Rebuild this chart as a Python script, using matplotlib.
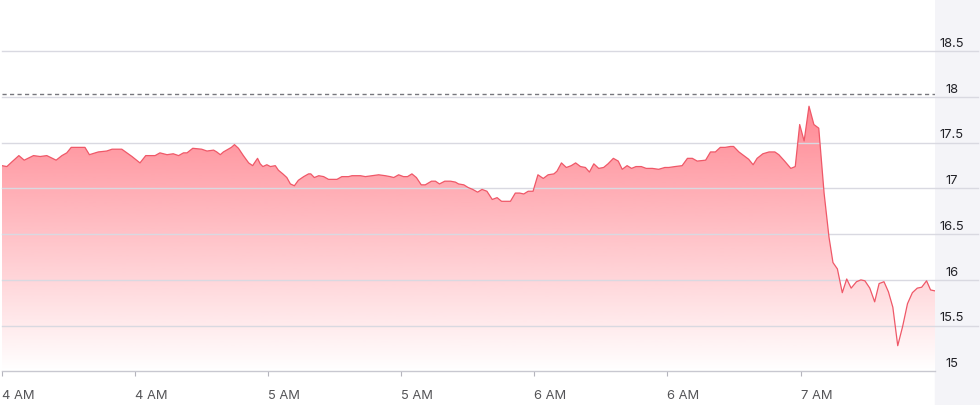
import numpy as np
import matplotlib
matplotlib.use('Agg')
import matplotlib.pyplot as plt
from matplotlib.colors import to_rgb
from matplotlib.patches import Rectangle

plt.rcParams['font.family'] = ['Inter', 'DejaVu Sans']

# minutes after 4:00 AM and price
minutes = [
    0, 1.1, 2.2, 3.8, 5.0, 7.1, 8.6, 10.1, 12.2, 13.5, 14.6, 15.6, 18.7, 19.7,
    21.7, 23.6, 24.8, 27.0, 29.3, 31.1, 32.4, 34.5, 35.6, 37.2, 38.6, 39.8,
    40.9, 41.7, 43.0,
    45.0, 46.2, 47.7, 48.4, 49.2, 49.9, 51.0, 51.7, 52.4, 53.3, 54.4, 55.6,
    56.5, 56.9, 57.6, 58.2, 58.8, 59.7, 60.5, 61.6, 62.3, 63.3, 64.2, 65.0,
    65.9, 66.8, 68.0, 69.1, 69.6, 70.4, 71.4, 72.5, 73.6, 75.5, 76.6, 78.1,
    78.9, 80.8, 81.9, 83.4, 84.9, 86.4,
    87.5, 88.3, 89.4, 90.5, 91.4, 92.4, 93.4, 94.5, 95.4, 96.8, 97.7, 98.6,
    99.8, 101.1, 102.2, 102.9, 104.1, 105.1, 106.1, 107.2, 108.2, 109.3,
    110.5, 111.6, 112.6, 113.7, 114.6, 115.7, 116.7, 117.6, 118.6, 119.7,
    120.8, 122.0, 123.1, 124.4, 125.1, 126.1, 127.2, 128.3, 129.3, 130.4,
    131.5, 132.4, 133.4, 134.5, 135.6, 136.6, 137.8, 138.9, 139.8, 140.9,
    141.9, 142.9, 144.1, 145.2, 146.6, 148.0, 149.4, 150.3, 151.7, 153.3,
    154.5, 155.6, 156.7, 158.6, 159.7, 160.8, 161.9, 163.0, 164.2, 164.9,
    166.1, 167.2, 168.3, 169.3, 170.2, 171.5, 172.9, 174.2, 175.1, 176.4,
    177.8, 178.8, 179.8, 180.8, 181.9, 183.0, 184.1, 185.3, 186.4, 187.3,
    188.3, 189.4, 190.4, 191.4, 192.6, 193.6, 194.5, 195.6, 196.7, 197.7,
    198.8, 199.8, 200.8, 201.9, 203.0, 204.1, 205.2, 206.3, 207.3, 208.4,
    209.3, 210.3,
]
prices = [
    17.25, 17.24, 17.29, 17.36, 17.31, 17.36, 17.35, 17.36, 17.31, 17.36,
    17.39, 17.45, 17.45, 17.37, 17.40, 17.41, 17.43, 17.43, 17.35, 17.28,
    17.36, 17.36, 17.39, 17.37, 17.38, 17.36, 17.39, 17.39, 17.44,
    17.43, 17.41, 17.42, 17.40, 17.37, 17.40, 17.43, 17.45, 17.48, 17.44,
    17.36, 17.28, 17.25, 17.28, 17.33, 17.27, 17.24, 17.26, 17.24, 17.25,
    17.20, 17.16, 17.12, 17.05, 17.03, 17.09, 17.13, 17.16, 17.16, 17.12,
    17.14, 17.13, 17.10, 17.10, 17.13, 17.13, 17.14, 17.14, 17.13, 17.14,
    17.15, 17.14,
    17.13, 17.12, 17.15, 17.13, 17.13, 17.16, 17.12, 17.04, 17.04, 17.08,
    17.08, 17.05, 17.08, 17.08, 17.07, 17.05, 17.04, 17.01, 16.99, 16.96,
    16.99, 16.97, 16.88, 16.90, 16.86, 16.86, 16.86, 16.95, 16.95, 16.94,
    16.97, 16.97, 17.15, 17.11, 17.15, 17.16, 17.19, 17.28, 17.23, 17.25,
    17.28, 17.24,
    17.23, 17.18, 17.27, 17.22, 17.23, 17.27, 17.33, 17.30, 17.21, 17.25,
    17.22, 17.24, 17.24, 17.22, 17.22, 17.21, 17.23, 17.23, 17.24, 17.25,
    17.33, 17.33, 17.30, 17.31, 17.40, 17.40, 17.45, 17.45, 17.46, 17.46,
    17.40, 17.36, 17.32, 17.26, 17.33, 17.38, 17.40, 17.40, 17.37, 17.30,
    17.22, 17.24, 17.70, 17.52, 17.90, 17.70, 17.66, 16.95, 16.47, 16.19,
    16.12, 15.86, 16.01, 15.91, 15.98, 16.00, 15.99, 15.91, 15.76, 15.96,
    15.98, 15.87, 15.70, 15.28, 15.49, 15.74, 15.86, 15.91, 15.92, 15.99,
    15.89, 15.88,
]
prev_close = 18.03

xtick_pos = [0, 30, 60, 90, 120, 150, 180]
xtick_labels = ['4 AM', '4 AM', '5 AM', '5 AM', '6 AM', '6 AM', '7 AM']
ytick_vals = [15, 15.5, 16, 16.5, 17, 17.5, 18, 18.5]
ytick_labels = ['15', '15.5', '16', '16.5', '17', '17.5', '18', '18.5']

W, H = 980, 406
fig = plt.figure(figsize=(W / 100, H / 100), dpi=100)
fig.patches.append(Rectangle((935 / W, 0), 45 / W, 1, transform=fig.transFigure,
                             color='#f4f4f8', zorder=-1))
ax = fig.add_axes([2 / W, 1 - 372.3 / H, 933 / W, 372.3 / H])
ax.set_facecolor('white')

x = np.array(minutes)
y = np.array(prices)
ymin, ymax = 15, 15 + 372.3 / 91.4

# gradient fill under the line
poly = ax.fill_between(x, y, ymin, color='none', lw=0)
rgba = np.zeros((256, 1, 4))
rgba[..., :3] = to_rgb('#ff5a69')
rgba[..., 3] = np.linspace(0, 0.75, 256).reshape(-1, 1)
im = ax.imshow(rgba, extent=[x.min(), x.max(), ymin, 18.0], origin='lower',
               aspect='auto', zorder=1, interpolation='bilinear')
im.set_clip_path(poly.get_paths()[0], transform=ax.transData)

ax.plot(x, y, color='#ef5868', lw=0.9, zorder=4)

# grid lines, running into the label panel
for v in ytick_vals[1:]:
    ax.axhline(v, xmin=0, xmax=(978 - 2) / 933, color='#d9d9e1', lw=1.0,
               zorder=2, clip_on=False)
for v, lab in zip(ytick_vals, ytick_labels):
    ax.annotate(lab, xy=(1.018, v), xycoords=ax.get_yaxis_transform(),
                xytext=(0, 6), textcoords='offset points', ha='center',
                va='center', fontsize=9.3, color='#222228', annotation_clip=False)

ax.axhline(prev_close, color='#77777d', lw=1.0, dashes=(3, 2.4), zorder=3)

ax.set_xlim(0, 210.3)
ax.set_ylim(ymin, ymax)
ax.set_yticks([])
ax.set_xticks(xtick_pos)
ax.set_xticklabels(xtick_labels, ha='left', fontsize=9.3, color='#555558')
ax.tick_params(axis='x', length=3.6, width=0.8, color='#b4b4bc', pad=9)
for s in ['top', 'right', 'left']:
    ax.spines[s].set_visible(False)
ax.spines['bottom'].set_color('#c8c8d0')
ax.spines['bottom'].set_linewidth(1.0)

fig.savefig('out.png', dpi=100)
